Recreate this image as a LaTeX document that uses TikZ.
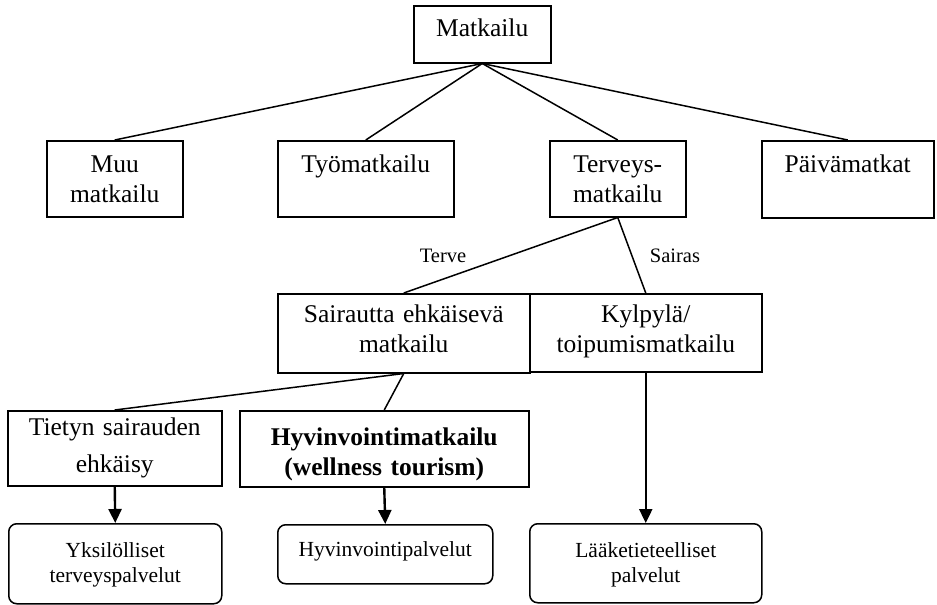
\documentclass[tikz,border=0pt]{standalone}
\usepackage{fontspec}
\setmainfont{Liberation Serif}
\usetikzlibrary{arrows.meta}
\tikzset{
  kehys/.style={draw, line width=1.5pt, anchor=north west, inner sep=0pt, align=center,
    font=\fontsize{25.5}{30}\selectfont},
  palvelu/.style={kehys, rounded corners=8pt, font=\fontsize{21.5}{25}\selectfont},
  haara/.style={line width=1.5pt},
  nuoli/.style={line width=2.4pt, -{Triangle[width=13pt,length=14pt]}},
  selite/.style={font=\fontsize{20.5}{24}\selectfont}
}

\begin{document}
\begin{tikzpicture}[x=1pt,y=-1pt]
      \useasboundingbox (0,0) rectangle (937,605);
      % ylin taso
      \node[kehys, text width=137pt, text height=31pt, text depth=26pt] (matkailu) at (413,5) {Matkailu};
      \node[kehys, text width=136pt, text height=32pt, text depth=44pt] (muu) at (46,140) {Muu\\matkailu};
      \node[kehys, text width=176pt, text height=32pt, text depth=44pt] (tyo) at (277,140) {Työmatkailu};
      \node[kehys, text width=136pt, text height=32pt, text depth=44pt] (terveys) at (549,140) {Terveys-\\matkailu};
      \node[kehys, text width=172pt, text height=32pt, text depth=45pt] (paiva) at (761,140) {Päivämatkat};
      % terveysmatkailu
      \node[kehys, text width=252pt, text height=29pt, text depth=50pt] (ehkaisy) at (277,293) {Sairautta ehkäisevä\\matkailu};
      \node[kehys, text width=232pt, text height=29pt, text depth=49pt] (kylpyla) at (529,293) {Kylpylä/\\toipumismatkailu};
      \node[kehys, text width=214pt, text height=25pt, text depth=50pt] (tietyn) at (7,410) {Tietyn sairauden\\[7pt]ehkäisy};
      \node[kehys, text width=289pt, text height=35pt, text depth=41pt, font=\fontsize{25.5}{30}\selectfont\bfseries] (hyvinvointi) at (239,410) {Hyvinvointimatkailu\\(wellness tourism)};
      % palvelut
      \node[palvelu, text width=213pt, text height=34pt, text depth=46pt] (yksilo) at (8,523) {Yksilölliset\\terveyspalvelut};
      \node[palvelu, text width=215pt, text height=32pt, text depth=27pt] (hpalvelut) at (277,524) {Hyvinvointipalvelut};
      \node[palvelu, text width=232pt, text height=34pt, text depth=45pt] (laake) at (529,523) {Lääketieteelliset\\palvelut};
      \node[selite] (terve) at (443,256) {Terve};
      \node[selite] (sairas) at (675,256) {Sairas};
      % yhteydet
      \foreach \k in {muu,tyo,terveys,paiva}
        \draw[haara] (matkailu.south) -- (\k.north);
      \draw[haara] (terveys.south) -- (ehkaisy.north);
      \draw[haara] (terveys.south) -- (kylpyla.north);
      \draw[haara] (ehkaisy.south) -- (tietyn.north);
      \draw[haara] (ehkaisy.south) -- (hyvinvointi.north);
      \draw[nuoli] (tietyn.south) -- (yksilo.north);
      \draw[nuoli] (hyvinvointi.south) -- (hpalvelut.north);
      \draw[nuoli] (kylpyla.south) -- (laake.north);
    \end{tikzpicture}
\end{document}
